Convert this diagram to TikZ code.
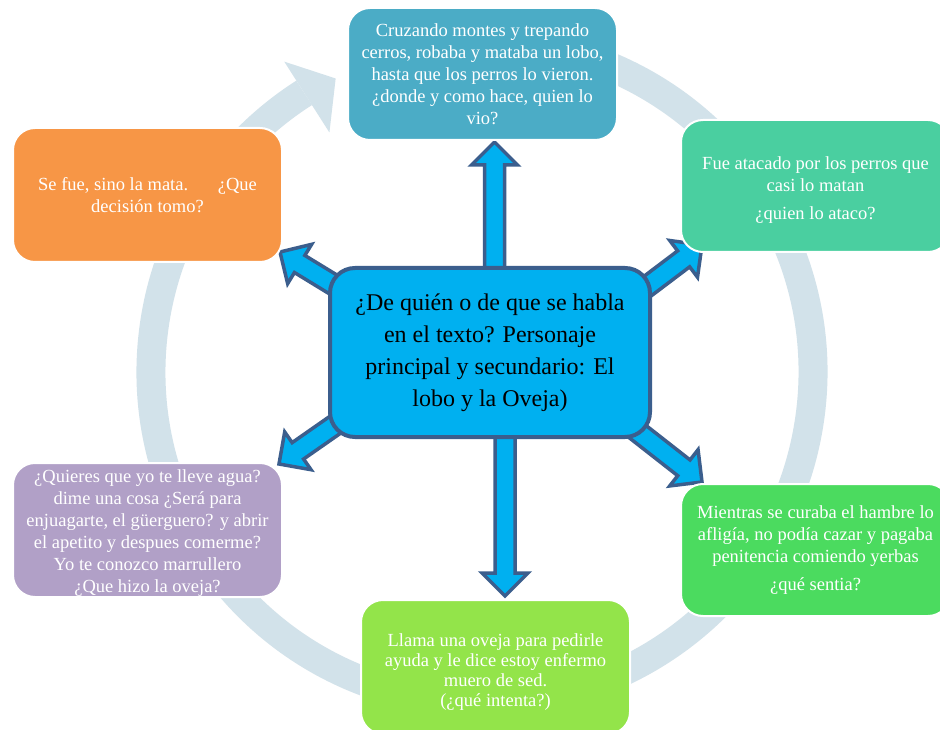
\documentclass[tikz,border=0pt]{standalone}
\usepackage{fontspec}
\setmainfont{Liberation Serif}
\usetikzlibrary{calc}
\definecolor{ringc}{RGB}{210,226,234}
\definecolor{cTop}{RGB}{75,172,198}
\definecolor{cTR}{RGB}{74,207,160}
\definecolor{cTL}{RGB}{247,150,70}
\definecolor{cMid}{RGB}{0,176,240}
\definecolor{cMidB}{RGB}{59,94,141}
\definecolor{cBL}{RGB}{177,160,199}
\definecolor{cBR}{RGB}{75,219,95}
\definecolor{cBot}{RGB}{147,228,74}
\newcommand{\blockarr}[2]{%
  \coordinate (bac) at ($(#2)!23pt!(#1)$);
  \draw[blockarrow] ($(#1)!10pt!90:(#2)$) -- ($(bac)!10pt!90:(#2)$) -- ($(bac)!23pt!90:(#2)$) -- (#2) -- ($(bac)!23pt!-90:(#2)$) -- ($(bac)!10pt!-90:(#2)$) -- ($(#1)!10pt!-90:(#2)$) -- cycle;}
\tikzset{
  box/.style={rounded corners=22pt, draw=white, line width=2pt, minimum width=269pt, minimum height=133pt, text=white, align=center, inner sep=0pt, font=\fontsize{18.5}{22}\selectfont},
  midbox/.style={rounded corners=25pt, fill=cMid, draw=cMidB, line width=4pt, minimum width=320pt, minimum height=169pt, text=black, align=center, inner sep=0pt, font=\fontsize{24}{32}\selectfont},
  blockarrow/.style={fill=cMid, draw=cMidB, line width=3.5pt, line join=miter}
}
\begin{document}
\begin{tikzpicture}[x=1pt,y=-1pt]
\useasboundingbox (0,0) rectangle (940,730);
\clip (0,0) rectangle (940,730);
\fill[white] (0,0) rectangle (940,730);
% ring arrow
\begin{scope}[shift={(482,372)}, x=1pt, y=1pt]
  \draw[ringc, line width=29pt] (80:331) arc[start angle=80, end angle=-237.5, radius=331];
  \fill[ringc] (122.5:284) -- (116.5:328) -- (122.5:368) -- cycle;
\end{scope}
% arrow end points
\coordinate (sU) at (494.5,300);  \coordinate (tU) at (494.5,142);
\coordinate (sD) at (505,400);    \coordinate (tD) at (505,596);
\coordinate (sUL) at (380,313);   \coordinate (tUL) at (280,252);
\coordinate (sUR) at (608,316);   \coordinate (tUR) at (702,245);
\coordinate (sDL) at (375,397);   \coordinate (tDL) at (279,464);
\coordinate (sDR) at (610,410);   \coordinate (tDR) at (702,482);
\blockarr{sU}{tU}
\blockarr{sD}{tD}
\blockarr{sUL}{tUL}
\blockarr{sUR}{tUR}
\blockarr{sDL}{tDL}
\blockarr{sDR}{tDR}
% boxes
\node[box, fill=cTop, minimum height=132pt] (top) at (482.5,74) {Cruzando montes y trepando\\cerros, robaba y mataba un lobo,\\hasta que los perros lo vieron.\\¿donde y como hace, quien lo\\vio?};
\node[box, fill=cTR, minimum height=132pt] (tr) at (815.5,186) {\rule{0pt}{20pt}Fue atacado por los perros que\\casi lo matan\\[6pt]¿quien lo ataco?};
\node[box, fill=cTL, minimum height=134pt] (tl) at (147.5,195) {Se fue, sino la mata.\hspace{1.6em}¿Que\\decisión tomo?};
\node[box, fill=cBL, minimum height=134pt] (bl) at (147.5,530) {\rule{0pt}{19pt}¿Quieres que yo te lleve agua?\\dime una cosa ¿Será para\\enjuagarte, el güerguero? y abrir\\el apetito y despues comerme?\\Yo te conozco marrullero\\¿Que hizo la oveja?};
\node[box, fill=cBR, minimum height=132pt] (br) at (815.5,550) {Mientras se curaba el hambre lo\\afligía, no podía cazar y pagaba\\penitencia comiendo yerbas\\[6pt]¿qué sentia?};
\node[box, fill=cBot, minimum height=134pt, font=\fontsize{18.5}{20}\selectfont] (bot) at (495.5,667) {\rule{0pt}{23pt}Llama una oveja para pedirle\\ayuda y le dice estoy enfermo\\muero de sed.\\(¿qué intenta?)};
\node[midbox] (mid) at (490,352.5) {¿De quién o de que se habla\\en el texto? Personaje\\principal y secundario: El\\lobo y la Oveja)};
\end{tikzpicture}
\end{document}
